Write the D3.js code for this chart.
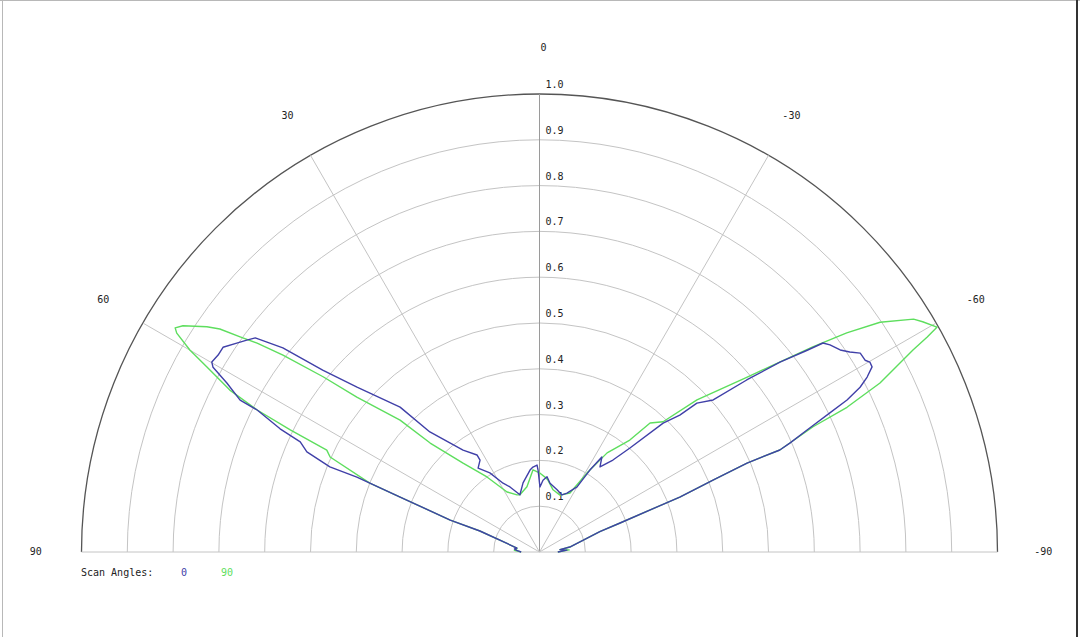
<!DOCTYPE html>
<html>
<head>
<meta charset="utf-8">
<script src="https://cdn.jsdelivr.net/npm/d3@7"></script>
<style>
  body { margin: 0; background: #fff; }
  svg { display: block; }
  text { font-family: "DejaVu Sans Mono", monospace; font-size: 10px; fill: #222; }
</style>
</head>
<body>
<svg width="1080" height="637"></svg>
<script>
// scan angle 0 (blue) - [angle deg, magnitude]
var scan0Angle = [90, 86, 83, 80, 70.6, 70.3, 68.5, 67.7, 67.9, 66.7, 65.3, 64.6, 63.3, 63.1, 61.6, 60.5, 59.9, 58.5, 57.1, 55.4, 54.1, 53.0, 52.4, 51.5, 50.0, 47.9, 43.9, 42.4, 36.9, 32.8, 32.9, 36.2, 32.1, 27.9, 24.4, 18.9, 13.4, 6.6, 4.4, 1.6, 1.0, -0.4, -2.8, -5.7, -8.7, -15.8, -21.5, -25.0, -30.0, -31.6, -33.3, -35.4, -38.6, -41.0, -43.8, -45.7, -46.6, -48.8, -50.3, -51.7, -53.0, -53.6, -54.5, -56.1, -57.2, -58.2, -59.5, -60.1, -60.9, -61.9, -62.8, -63.7, -64.4, -65.5, -66.5, -67.0, -66.8, -67.5, -68.6, -70.2, -71.3, -80.7, -83.5, -86, -90];
var scan0Value = [0.04, 0.05, 0.055, 0.05, 0.138, 0.207, 0.327, 0.431, 0.494, 0.553, 0.575, 0.627, 0.690, 0.733, 0.776, 0.819, 0.827, 0.823, 0.823, 0.803, 0.789, 0.777, 0.751, 0.716, 0.618, 0.537, 0.439, 0.355, 0.278, 0.252, 0.239, 0.227, 0.204, 0.170, 0.156, 0.132, 0.155, 0.180, 0.186, 0.190, 0.179, 0.142, 0.157, 0.165, 0.152, 0.141, 0.134, 0.142, 0.164, 0.210, 0.248, 0.228, 0.257, 0.301, 0.390, 0.428, 0.473, 0.504, 0.588, 0.669, 0.732, 0.769, 0.779, 0.791, 0.806, 0.824, 0.825, 0.832, 0.831, 0.811, 0.787, 0.749, 0.703, 0.642, 0.596, 0.570, 0.493, 0.410, 0.329, 0.187, 0.139, 0.067, 0.045, 0.06, 0.04];

// scan angle 90 (green)
var scan90Angle = [90, 86, 83, 80, 70.6, 70.3, 68.5, 67.9, 65.6, 64.4, 63.9, 63.3, 62.4, 60.9, 60.0, 58.9, 58.4, 57.6, 55.9, 55.1, 54.3, 53.5, 52.5, 51.0, 49.7, 46.6, 45.1, 40.7, 35.0, 28.4, 21.5, 18.9, 10.9, 4.5, -0.4, -4.2, -6.7, -12.3, -19.8, -27.3, -31.0, -34.3, -38.9, -40.6, -43.5, -46.0, -49.9, -53.1, -54.5, -56.0, -58.1, -59.0, -60.5, -61.0, -61.6, -63.6, -64.8, -65.4, -67.0, -66.8, -67.5, -68.6, -70.2, -71.3, -80.7, -83.5, -86, -90];
var scan90Value = [0.04, 0.055, 0.05, 0.05, 0.138, 0.207, 0.327, 0.400, 0.502, 0.515, 0.606, 0.690, 0.763, 0.831, 0.881, 0.925, 0.934, 0.922, 0.877, 0.851, 0.805, 0.767, 0.706, 0.608, 0.523, 0.419, 0.337, 0.256, 0.200, 0.149, 0.134, 0.132, 0.145, 0.180, 0.172, 0.164, 0.158, 0.139, 0.132, 0.145, 0.201, 0.262, 0.314, 0.371, 0.392, 0.478, 0.593, 0.746, 0.824, 0.897, 0.962, 0.976, 0.997, 0.968, 0.927, 0.830, 0.742, 0.657, 0.570, 0.493, 0.410, 0.329, 0.187, 0.139, 0.067, 0.045, 0.065, 0.04];

var ringTicks = [0.1, 0.2, 0.3, 0.4, 0.5, 0.6, 0.7, 0.8, 0.9, 1.0];
var spokeAngles = [90, 60, 30, 0, -30, -60, -90];
var seriesNames = ["0", "90"];
var seriesColors = ["#4040a8", "#5ede5e"];

var svg = d3.select("svg");
var cx = 539.5, cy = 552, radius = 458;

// frame
svg.append("line").attr("x1", 0).attr("x2", 1080).attr("y1", 0.5).attr("y2", 0.5).attr("stroke", "#b8b8b8");
svg.append("line").attr("x1", 2.5).attr("x2", 2.5).attr("y1", 0).attr("y2", 637).attr("stroke", "#b8b8b8");
svg.append("line").attr("x1", 1077).attr("x2", 1077).attr("y1", 0).attr("y2", 637).attr("stroke", "#333").attr("stroke-width", 2);

var rScale = d3.scaleLinear().domain([0, 1]).range([0, radius]);
// positive angles to the left, 0 at the top
var aScale = d3.scaleLinear().domain([-90, 90]).range([Math.PI / 2, -Math.PI / 2]);

var plot = svg.append("g").attr("transform", "translate(" + cx + "," + cy + ")");

ringTicks.forEach(function(t) {
  var p = d3.path();
  p.moveTo(-rScale(t), 0);
  p.arc(0, 0, rScale(t), Math.PI, 2 * Math.PI);
  plot.append("path").attr("d", p.toString())
    .attr("fill", "none")
    .attr("stroke", t === 1 ? "#555" : "#c4c4c4")
    .attr("stroke-width", t === 1 ? 1.3 : 1);
});

spokeAngles.forEach(function(a) {
  var ang = aScale(a);
  plot.append("line")
    .attr("x1", 0).attr("y1", 0)
    .attr("x2", rScale(1) * Math.sin(ang))
    .attr("y2", -rScale(1) * Math.cos(ang))
    .attr("stroke", a === 0 ? "#9a9a9a" : "#c4c4c4")
    .attr("stroke-width", 1);
});

// angle labels
spokeAngles.forEach(function(a) {
  var ang = aScale(a);
  var rr = rScale(1.1);
  plot.append("text")
    .attr("x", rr * Math.sin(ang) + (a === 0 ? 4 : 0))
    .attr("y", -rr * Math.cos(ang) + 3)
    .attr("text-anchor", "middle")
    .text(a);
});

// radial labels
ringTicks.forEach(function(t) {
  plot.append("text")
    .attr("x", 6)
    .attr("y", -rScale(t) - 6)
    .text(d3.format(".1f")(t));
});

var line = d3.lineRadial()
  .angle(function(d) { return aScale(d[0]); })
  .radius(function(d) { return rScale(d[1]); });

var series = [
  d3.zip(scan0Angle, scan0Value),
  d3.zip(scan90Angle, scan90Value)
];

// draw green under blue like the original? blue first then green
[1, 0].forEach(function(i) {
  plot.append("path")
    .datum(series[i])
    .attr("d", line)
    .attr("fill", "none")
    .attr("stroke", seriesColors[i])
    .attr("stroke-width", 1.4)
    .attr("stroke-linejoin", "round");
});

// legend
var legend = svg.append("g").attr("transform", "translate(81,576)");
legend.append("text").text("Scan Angles:");
seriesNames.forEach(function(n, i) {
  legend.append("text")
    .attr("x", 100 + i * 40)
    .attr("fill", seriesColors[i])
    .style("fill", seriesColors[i])
    .text(n);
});
</script>
</body>
</html>
